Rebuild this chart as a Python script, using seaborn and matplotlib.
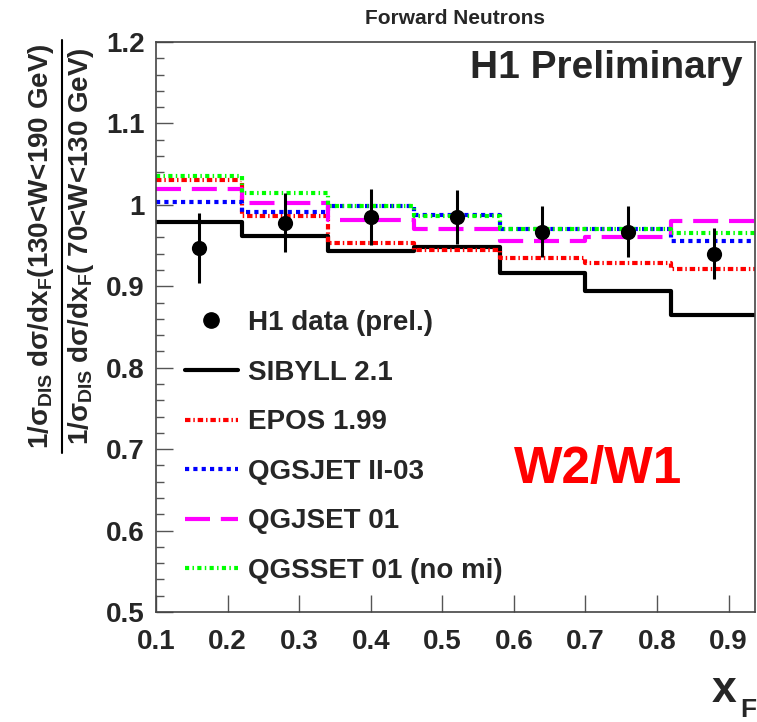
import matplotlib
matplotlib.use("Agg")
import matplotlib.pyplot as plt
from matplotlib.lines import Line2D
from matplotlib.ticker import MultipleLocator, FuncFormatter
import pandas as pd
import seaborn as sns

# x_F binning of the measurement
bin_edges = [0.10, 0.22, 0.34, 0.46, 0.58, 0.70, 0.82, 0.94]
xf_centres = [0.16, 0.28, 0.40, 0.52, 0.64, 0.76, 0.88]

# H1 ratio W2/W1 with total uncertainty
h1_ratio = [0.947, 0.978, 0.985, 0.985, 0.967, 0.967, 0.940]
h1_error = [0.043, 0.036, 0.034, 0.033, 0.031, 0.031, 0.031]

# model predictions per bin
sibyll = [0.979, 0.962, 0.943, 0.948, 0.916, 0.894, 0.865]
epos = [1.031, 0.986, 0.953, 0.944, 0.935, 0.928, 0.921]
qgsjet2 = [1.003, 0.991, 0.999, 0.987, 0.970, 0.970, 0.956]
qgsjet01 = [1.020, 1.002, 0.981, 0.970, 0.956, 0.961, 0.980]
qgsjet01_nomi = [1.036, 1.014, 0.998, 0.986, 0.970, 0.970, 0.966]

model_labels = ["SIBYLL 2.1", "EPOS 1.99", "QGSJET II-03", "QGJSET 01",
                "QGSSET 01 (no mi)"]
data_label = "H1 data (prel.)"
y_ticks = [0.5, 0.6, 0.7, 0.8, 0.9, 1.0, 1.1, 1.2]
x_ticks = [0.1, 0.2, 0.3, 0.4, 0.5, 0.6, 0.7, 0.8, 0.9]

sns.set_theme(style="ticks")
plt.rcParams["font.family"] = ["Liberation Sans", "DejaVu Sans"]
plt.rcParams["font.weight"] = "bold"
plt.rcParams["mathtext.fontset"] = "custom"
plt.rcParams["mathtext.rm"] = "Liberation Sans"
plt.rcParams["mathtext.it"] = "Liberation Sans"
plt.rcParams["mathtext.bf"] = "Liberation Sans:bold"

W, H = 757, 722
fig = plt.figure(figsize=(W / 100, H / 100), dpi=100)
ax = fig.add_axes([156 / W, 1 - 612 / H, (755 - 156) / W, (612 - 42) / H])

model_values = [sibyll, epos, qgsjet2, qgsjet01, qgsjet01_nomi]
model_styles = [
    dict(color="black", linestyle="-"),
    dict(color="#ff0000", linestyle=(0, (1.3, 0.7, 0.35, 0.7))),
    dict(color="#0000ff", linestyle=(0, (1.0, 1.0))),
    dict(color="#ff00ff", linestyle=(0, (6.0, 2.6))),
    dict(color="#00ff00", linestyle=(0, (1.0, 0.8, 0.35, 0.8))),
]

for label, vals, st in zip(model_labels, model_values, model_styles):
    df = pd.DataFrame({"xF": bin_edges, "ratio": list(vals) + [vals[-1]]})
    sns.lineplot(data=df, x="xF", y="ratio", ax=ax, estimator=None, sort=False,
                 drawstyle="steps-post", linewidth=3.0, **st)

ax.errorbar(xf_centres, h1_ratio, yerr=h1_error, fmt="none", ecolor="black",
            elinewidth=2.2, capsize=0, zorder=5)
sns.scatterplot(x=xf_centres, y=h1_ratio, ax=ax, color="black", s=120,
                edgecolor="black", linewidth=0, zorder=6)

ax.set_xlim(0.1, 0.937)
ax.set_ylim(0.5, 1.2)
ax.set_xlabel("")
ax.set_ylabel("")
ax.set_xticks(x_ticks)
ax.set_yticks(y_ticks)
ax.yaxis.set_minor_locator(MultipleLocator(0.02))
fmt = FuncFormatter(lambda v, p: f"{v:g}")
ax.xaxis.set_major_formatter(fmt)
ax.yaxis.set_major_formatter(fmt)
ax.tick_params(axis="both", which="major", direction="in", length=12,
               width=1.0, color="#555555", labelsize=20, pad=8)
ax.tick_params(axis="x", which="major", pad=12)
ax.tick_params(axis="y", which="minor", direction="in", length=6,
               width=1.0, color="#555555")
for lbl in ax.get_xticklabels() + ax.get_yticklabels():
    lbl.set_fontweight("bold")
for sp in ax.spines.values():
    sp.set_color("#444444")
    sp.set_linewidth(1.2)

# legend
handles = [Line2D([], [], marker="o", markersize=11, color="black",
                  linestyle="none")]
for st in model_styles:
    handles.append(Line2D([], [], linewidth=3.0, **st))
leg = ax.legend(handles, [data_label] + model_labels, loc="upper left",
                bbox_to_anchor=(185 / W, 1 - 310 / H),
                bbox_transform=fig.transFigure, frameon=False,
                prop=dict(size=20, weight="bold"), handlelength=1.9,
                handletextpad=0.35, labelspacing=0.85, borderpad=0,
                borderaxespad=0)

# annotations
fig.text(455 / W, 1 - 18 / H, "Forward Neutrons", ha="center", va="center",
         fontsize=15, fontweight="bold")
fig.text(742 / W, 1 - 68 / H, "H1 Preliminary", ha="right", va="center",
         fontsize=28, fontweight="bold")
fig.text(598 / W, 1 - 469 / H, "W2/W1", ha="center", va="center",
         fontsize=37, fontweight="bold", color="#ff0000")
fig.text(724 / W, 1 - 690 / H, "x", ha="center", va="center",
         fontsize=32, fontweight="bold")
fig.text(748 / W, 1 - 710 / H, "F", ha="center", va="center",
         fontsize=19, fontweight="bold")

# y-axis title as a fraction
num = r"$1/\sigma_{\rm DIS}$ d$\sigma$/dx$_{\rm F}$(130<W<190 GeV)"
den = r"$1/\sigma_{\rm DIS}$ d$\sigma$/dx$_{\rm F}$( 70<W<130 GeV)"
fig.text(41 / W, 1 - 246 / H, num, rotation=90, ha="center", va="center",
         fontsize=20, fontweight="bold")
fig.text(81 / W, 1 - 246 / H, den, rotation=90, ha="center", va="center",
         fontsize=20, fontweight="bold")
fig.add_artist(Line2D([62 / W, 62 / W], [1 - 40 / H, 1 - 453 / H],
                      transform=fig.transFigure, color="black", linewidth=1.5))

fig.savefig("out.png", dpi=100)
